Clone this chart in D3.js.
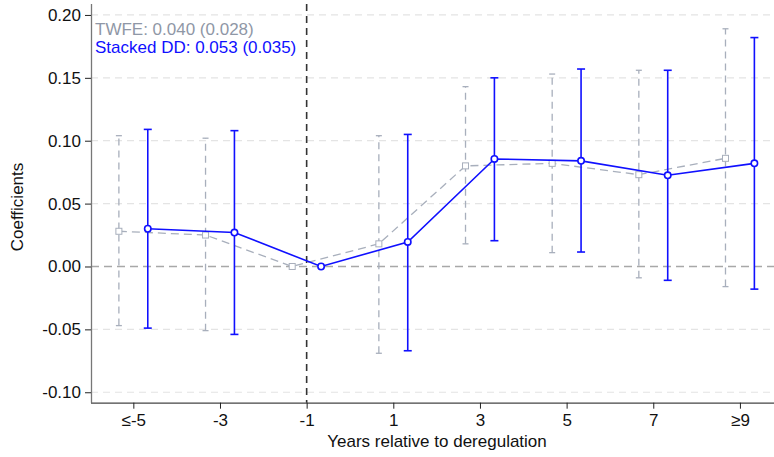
<!DOCTYPE html>
<html>
<head>
<meta charset="utf-8">
<script src="https://cdn.jsdelivr.net/npm/d3@7"></script>
<style>
  body { margin: 0; background: #fff; }
  svg { font-family: "Liberation Sans", Arial, Helvetica, sans-serif; }
</style>
</head>
<body>
<svg id="canvas" width="774" height="457"></svg>
<script>
// event-time bins (x ticks) and their labels
let years = [-5, -3, -1, 1, 3, 5, 7, 9]
let tickLabels = ['≤-5', '-3', '-1', '1', '3', '5', '7', '≥9']

// TWFE estimates and 95% CI
let twfe = [0.028, 0.025, 0, 0.018, 0.080, 0.082, 0.073, 0.086]
let twfeLo = [-0.047, -0.051, null, -0.069, 0.018, 0.011, -0.009, -0.016]
let twfeHi = [0.104, 0.102, null, 0.104, 0.143, 0.153, 0.156, 0.189]

// Stacked DD estimates and 95% CI
let stacked = [0.030, 0.027, 0, 0.0195, 0.0855, 0.084, 0.0725, 0.082]
let stackedLo = [-0.049, -0.054, null, -0.067, 0.0205, 0.0115, -0.011, -0.018]
let stackedHi = [0.109, 0.108, null, 0.105, 0.150, 0.157, 0.156, 0.182]

let yTicks = [-0.10, -0.05, 0.00, 0.05, 0.10, 0.15, 0.20]
let legendLines = ['TWFE: 0.040 (0.028)', 'Stacked DD: 0.053 (0.035)']

let blue = '#1010ff'
let grey = '#a8afbc'
let fontSize = '17px'

let canvas = d3.select('#canvas')

let x = d3.scaleLinear().domain([-6, 9.8]).range([90, 774.6])
let y = d3.scaleLinear().domain([-0.1083, 0.2087]).range([402.7, 4])

// gridlines
canvas.append('g')
    .selectAll('line')
    .data(yTicks.filter(d => d !== 0))
    .enter()
    .append('line')
    .attr('x1', 91).attr('x2', 774)
    .attr('y1', d => y(d)).attr('y2', d => y(d))
    .attr('stroke', '#e4e4e4')
    .attr('stroke-width', 1.2)
    .attr('stroke-dasharray', '7,5')

// zero line
canvas.append('line')
    .attr('x1', 91).attr('x2', 774)
    .attr('y1', y(0)).attr('y2', y(0))
    .attr('stroke', '#a8a8a8')
    .attr('stroke-width', 1.6)
    .attr('stroke-dasharray', '8,5')

// reference year line
canvas.append('line')
    .attr('x1', x(-1)).attr('x2', x(-1))
    .attr('y1', y.range()[1]).attr('y2', y.range()[0])
    .attr('stroke', '#333')
    .attr('stroke-width', 1.6)
    .attr('stroke-dasharray', '7,5')

// axes
let yAxis = d3.axisLeft(y)
    .tickValues(yTicks)
    .tickSize(6)
    .tickFormat(d3.format('.2f'))

let gy = canvas.append('g')
    .attr('transform', 'translate(91,0)')
    .call(yAxis)
gy.select('.domain').attr('stroke', '#777').attr('stroke-width', 1.3)
    .attr('d', 'M0.5,' + y.range()[1] + 'V' + y.range()[0])
gy.selectAll('.tick line').attr('stroke', '#222')
gy.selectAll('.tick text')
    .attr('x', -10)
    .style('font-size', fontSize)
    .attr('fill', '#111')
    .text(d => d3.format('.2f')(d).replace('−', '-'))

let xAxis = d3.axisBottom(x)
    .tickValues(years)
    .tickSize(6)
    .tickFormat((d, i) => tickLabels[i])

let gx = canvas.append('g')
    .attr('transform', 'translate(0,' + y.range()[0] + ')')
    .call(xAxis)
gx.select('.domain').attr('stroke', '#444').attr('stroke-width', 1.3)
    .attr('d', 'M91,0.5H774')
gx.selectAll('.tick line').attr('stroke', '#222')
gx.selectAll('.tick text')
    .attr('y', 11)
    .style('font-size', fontSize)
    .attr('fill', '#111')

// axis titles
canvas.append('text')
    .attr('x', 437).attr('y', 447)
    .attr('text-anchor', 'middle')
    .style('font-size', fontSize)
    .attr('fill', '#111')
    .text('Years relative to deregulation')

canvas.append('text')
    .attr('transform', 'translate(23,207) rotate(-90)')
    .attr('text-anchor', 'middle')
    .style('font-size', fontSize)
    .attr('fill', '#111')
    .text('Coefficients')

// one series: CI whiskers, connecting line, markers
let drawSeries = (vals, lo, hi, offset, color, dashed, marker) => {
    let g = canvas.append('g')
    let pts = years.map((yr, i) => ({ x: x(yr + offset), v: vals[i], lo: lo[i], hi: hi[i] }))
    let ci = pts.filter(d => d.lo !== null)
    let w = dashed ? 1.3 : 1.6
    let cap = dashed ? 3 : 4

    g.selectAll('line.ci')
        .data(ci)
        .enter()
        .append('line')
        .attr('x1', d => d.x).attr('x2', d => d.x)
        .attr('y1', d => y(d.lo)).attr('y2', d => y(d.hi))
        .attr('stroke', color)
        .attr('stroke-width', w)
        .attr('stroke-dasharray', dashed ? '7,5' : null)

    ;['lo', 'hi'].forEach(k => {
        g.selectAll('line.cap' + k)
            .data(ci)
            .enter()
            .append('line')
            .attr('x1', d => d.x - cap).attr('x2', d => d.x + cap)
            .attr('y1', d => y(d[k])).attr('y2', d => y(d[k]))
            .attr('stroke', color)
            .attr('stroke-width', w)
    })

    g.append('path')
        .datum(pts)
        .attr('fill', 'none')
        .attr('stroke', color)
        .attr('stroke-width', w)
        .attr('stroke-dasharray', dashed ? '8,5' : null)
        .attr('d', d3.line().x(d => d.x).y(d => y(d.v)))

    if (marker === 'square') {
        g.selectAll('rect')
            .data(pts)
            .enter()
            .append('rect')
            .attr('x', d => d.x - 3).attr('y', d => y(d.v) - 3)
            .attr('width', 6).attr('height', 6)
            .attr('fill', '#fff')
            .attr('stroke', color)
            .attr('stroke-width', 1)
    } else {
        g.selectAll('circle')
            .data(pts)
            .enter()
            .append('circle')
            .attr('cx', d => d.x).attr('cy', d => y(d.v))
            .attr('r', 3.2)
            .attr('fill', '#fff')
            .attr('stroke', color)
            .attr('stroke-width', 1.6)
    }
}

drawSeries(twfe, twfeLo, twfeHi, -1 / 3, grey, true, 'square')
drawSeries(stacked, stackedLo, stackedHi, 1 / 3, blue, false, 'circle')

// legend text
canvas.selectAll('text.legend')
    .data(legendLines)
    .enter()
    .append('text')
    .attr('class', 'legend')
    .attr('x', 95)
    .attr('y', (d, i) => 35 + i * 18)
    .style('font-size', fontSize)
    .attr('fill', (d, i) => i === 0 ? '#8f97a6' : blue)
    .text(d => d)
</script>
</body>
</html>
